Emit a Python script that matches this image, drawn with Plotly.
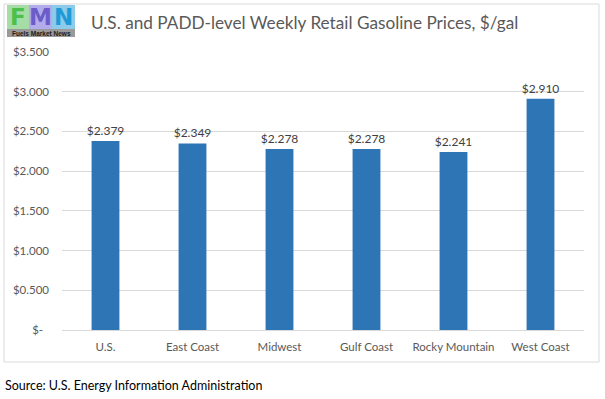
import plotly.graph_objects as go

categories = ["U.S.", "East Coast", "Midwest", "Gulf Coast", "Rocky Mountain", "West Coast"]
prices = [2.379, 2.349, 2.278, 2.278, 2.241, 2.910]
tick_vals = [0, 0.5, 1.0, 1.5, 2.0, 2.5, 3.0, 3.5]
tick_text = ["$-\u00a0\u00a0", "$0.500", "$1.000", "$1.500", "$2.000", "$2.500", "$3.000", "$3.500"]

W, H = 605, 399
L, R, T, B = 62, 21, 52, 69
PW, PH = W - L - R, H - T - B

def px(x):
    return (x - L) / PW

def py(y):
    return (H - B - y) / PH

FONT = "Lato, Carlito, Calibri, sans-serif"

fig = go.Figure(go.Bar(
    x=categories, y=prices,
    marker=dict(color="#2e75b6", line=dict(width=0)),
    texttemplate="$%{y:.3f}", textposition="outside",
    textfont=dict(size=12, color="#404040", family=FONT),
    constraintext="none",
    cliponaxis=False, width=0.32,
))

shapes = [
    dict(type="rect", xref="paper", yref="paper", x0=px(4), x1=px(599), y0=py(362), y1=py(4),
         line=dict(color="#d9d9d9", width=1), fillcolor="rgba(0,0,0,0)", layer="below"),
]
# logo blocks
logo = [(7, 29, "#a6dca6", "#4cc04c", "F"), (29, 52, "#b3acec", "#6b5cc8", "M"), (52, 75, "#8ccbea", "#1f9ad6", "N")]
annotations = []
for x0, x1, bg, fg, letter in logo:
    shapes.append(dict(type="rect", xref="paper", yref="paper", x0=px(x0), x1=px(x1), y0=py(29), y1=py(5),
                       line=dict(width=0), fillcolor=bg))
    annotations.append(dict(text=f"<b>{letter}</b>", xref="paper", yref="paper", x=px((x0 + x1) / 2), y=py(17),
                            xanchor="center", yanchor="middle", showarrow=False, borderpad=0,
                            font=dict(size=23, color=fg, family="DejaVu Sans")))
shapes.append(dict(type="rect", xref="paper", yref="paper", x0=px(7), x1=px(75), y0=py(37), y1=py(29),
                   line=dict(width=0), fillcolor="#9a9a9a"))
annotations.append(dict(text="<b>Fuels Market News</b>", xref="paper", yref="paper", x=px(41), y=py(33.5),
                        xanchor="center", yanchor="middle", showarrow=False, borderpad=0,
                        font=dict(size=6.5, color="#1a1a1a", family="Liberation Sans Narrow, Liberation Sans")))
annotations.append(dict(text="U.S. and PADD-level Weekly Retail Gasoline Prices, $/gal", xref="paper", yref="paper",
                        x=px(89), y=py(23), xanchor="left", yanchor="middle", showarrow=False,
                        font=dict(size=17.2, color="#595959", family=FONT)))
annotations.append(dict(text="Source: U.S. Energy Information Administration", xref="paper", yref="paper",
                        x=px(3), y=py(385), xanchor="left", yanchor="middle", showarrow=False,
                        font=dict(size=12.5, color="#000000", family=FONT)))

fig.update_layout(
    width=W, height=H,
    margin=dict(l=L, r=R, t=T, b=B, pad=0),
    paper_bgcolor="white", plot_bgcolor="white",
    showlegend=False,
    bargap=0.68,
    font=dict(family=FONT, size=11, color="#595959"),
    xaxis=dict(showgrid=False, showline=False, ticks="", tickfont=dict(size=11.5, color="#595959"),
               ticklabelstandoff=8),
    yaxis=dict(range=[0, 3.5], tickvals=tick_vals, ticktext=tick_text, showgrid=True, gridcolor="#d9d9d9",
               gridwidth=1, zeroline=True, zerolinecolor="#d9d9d9", zerolinewidth=1, showline=False, ticks="",
               tickfont=dict(size=11.5, color="#595959"), ticklabelstandoff=12),
    shapes=shapes, annotations=annotations,
)

fig.write_html("out.html", config={"displayModeBar": False},
               post_script="document.body.style.margin='0';document.body.style.overflow='hidden';")
